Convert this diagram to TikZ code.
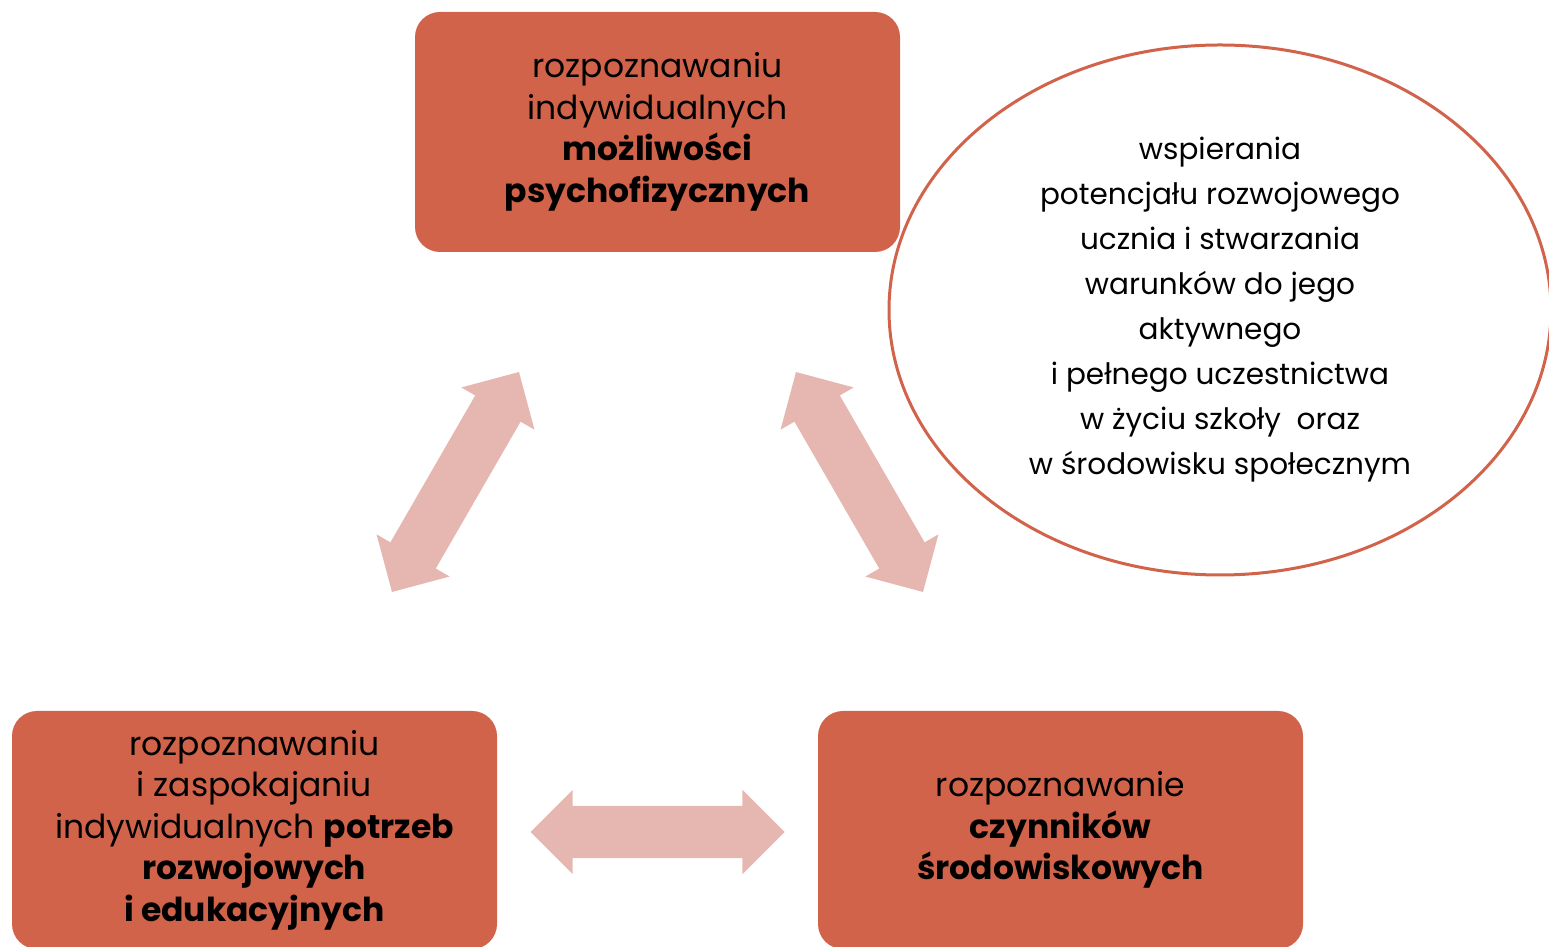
\documentclass[tikz,border=0pt]{standalone}
\usepackage{fontspec}
\setmainfont{Poppins}
\usetikzlibrary{shapes.geometric,shapes.arrows}
\definecolor{brick}{RGB}{209,99,74}
\definecolor{rosy}{RGB}{229,183,176}
\tikzset{box/.style={fill=brick,rounded corners=25pt,minimum width=485pt,align=center,
    font=\fontsize{33}{41.5}\selectfont,inner sep=0pt}}
\tikzset{fat/.style={double arrow,fill=rosy,inner sep=26pt,minimum width=84pt,
    minimum height=254pt,double arrow head extend=16pt,double arrow tip angle=90}}

\begin{document}
\begin{tikzpicture}[x=1pt,y=1pt]
        \useasboundingbox (0,0) rectangle (1549,947);
        % boxes
        \node[box,minimum height=240pt] (psy) at (657.5,815) {rozpoznawaniu\\indywidualnych\\\textbf{możliwości}\\\textbf{psychofizycznych}};
        \node[box,minimum height=238pt] (edu) at (254.5,117) {rozpoznawaniu\\i zaspokajaniu\\indywidualnych \textbf{potrzeb}\\\textbf{rozwojowych}\\\textbf{i edukacyjnych}};
        \node[box,minimum height=238pt] (env) at (1060.5,117) {rozpoznawanie\\\textbf{czynników}\\\textbf{środowiskowych}};
        % oval
        \node[ellipse,draw=brick,line width=3pt,fill=white,minimum width=662pt,minimum height=530pt,
          align=center,font=\fontsize{29.5}{45}\selectfont] (sup) at (1220,637) {wspierania\\potencjału rozwojowego\\ucznia i stwarzania\\warunków do jego\\aktywnego\\i pełnego uczestnictwa\\w życiu szkoły~~oraz\\w środowisku społecznym};
        % arrows
        \node[fat,rotate=60] (a1) at (455.5,465) {};
        \node[fat,rotate=-60] (a2) at (859.5,465) {};
        \node[fat] (a3) at (657.5,115) {};
\end{tikzpicture}
\end{document}
